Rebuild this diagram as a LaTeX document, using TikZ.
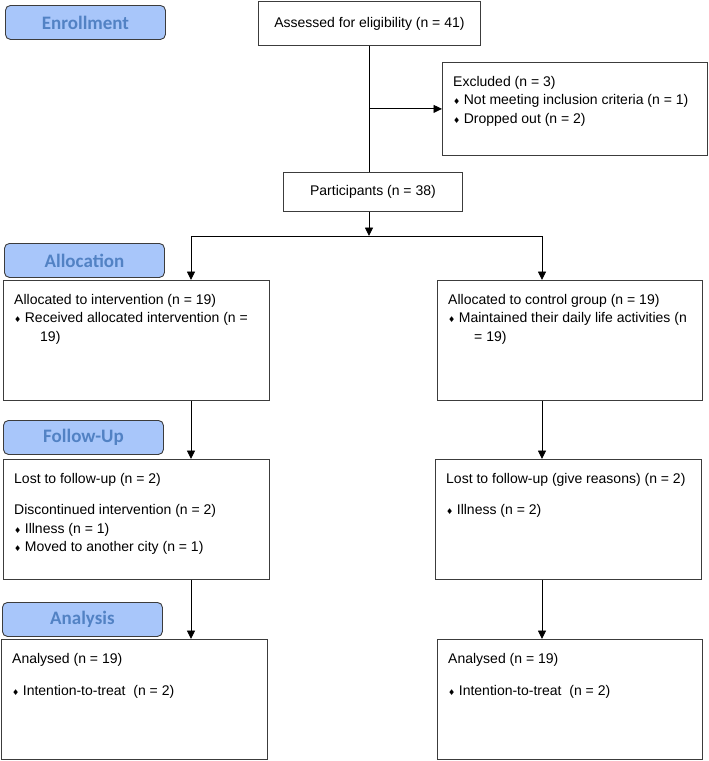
\documentclass[tikz,border=0pt]{standalone}
\usepackage{fontspec}
\setmainfont{Liberation Sans}
\newfontfamily\labelfont{Carlito}
\newfontfamily\dejavu{DejaVu Sans}
\usetikzlibrary{arrows.meta}

\definecolor{stagefill}{RGB}{168,198,250}
\definecolor{stagetext}{RGB}{82,130,196}
\definecolor{boxline}{RGB}{60,60,60}

\newcommand{\bul}{{\dejavu\fontsize{8}{8}\selectfont ♦}\hspace{3.5pt}}

\tikzset{
	stage/.style={draw=boxline, fill=stagefill, rounded corners=5pt, line width=0.9pt,
		minimum width=160pt, minimum height=34pt, inner sep=0pt, anchor=north west,
		text=stagetext, font=\labelfont\bfseries\fontsize{19}{19}\selectfont},
	box/.style={draw=boxline, line width=0.9pt, inner sep=0pt, anchor=north west},
	txt/.style={inner sep=0pt, anchor=north west, align=left},
	arr/.style={-{Triangle[width=8pt,length=8.5pt]}, line width=0.9pt}
}

\begin{document}
\begin{tikzpicture}[x=1pt,y=-1pt,font=\fontsize{14}{18.5}\selectfont]
	\useasboundingbox (0,0) rectangle (709,761);

	% stage labels
	\node[stage] (enrol) at (5,5) {\raisebox{-1.5pt}{Enrollment}};
	\node[stage] (alloc) at (4,243) {\raisebox{-1.5pt}{Allocation}};
	\node[stage] (follow) at (3,420) {\raisebox{-1.5pt}{Follow-Up}};
	\node[stage] (analysis) at (2,602) {\raisebox{-1.5pt}{Analysis}};

	% enrollment
	\node[box, minimum width=222pt, minimum height=44pt] (assessed) at (258,1) {};
	\node (assessedtxt) at (assessed.center) {Assessed for eligibility (n = 41)};

	\node[box, minimum width=265pt, minimum height=93pt] (excluded) at (442,62) {};
	\node[txt] (excludedtxt) at (453,76) {Excluded (n = 3)\\
		\bul Not meeting inclusion criteria (n = 1)\\
		\bul Dropped out (n = 2)};

	\node[box, minimum width=179pt, minimum height=39pt] (particip) at (283,172) {};
	\node (participtxt) at (particip.center) {Participants (n = 38)};

	% allocation
	\node[box, minimum width=266pt, minimum height=120pt] (allocL) at (3,280) {};
	\node[txt] (allocLtxt) at (14,294) {Allocated to intervention (n = 19)\\
		\bul Received allocated intervention (n =\\
		\hspace*{26pt}19)};

	\node[box, minimum width=265pt, minimum height=120pt] (allocR) at (437,280) {};
	\node[txt] (allocRtxt) at (448,294) {Allocated to control group (n = 19)\\
		\bul Maintained their daily life activities (n\\
		\hspace*{26pt}= 19)};

	% follow-up
	\node[box, minimum width=266pt, minimum height=120pt] (followL) at (3,459) {};
	\node[txt] (followLtxt) at (14,473) {Lost to follow-up (n = 2)\\[13pt]
		Discontinued intervention (n = 2)\\
		\bul Illness (n = 1)\\
		\bul Moved to another city (n = 1)};

	\node[box, minimum width=266pt, minimum height=120pt] (followR) at (435,459) {};
	\node[txt] (followRtxt) at (446,473) {Lost to follow-up (give reasons) (n = 2)\\[13pt]
		\bul Illness (n = 2)};

	% analysis
	\node[box, minimum width=266pt, minimum height=120pt] (analysL) at (1,639) {};
	\node[txt] (analysLtxt) at (12,653) {Analysed (n = 19)\\[14pt]
		\bul Intention-to-treat\ \ (n = 2)};

	\node[box, minimum width=265pt, minimum height=120pt] (analysR) at (437,639) {};
	\node[txt] (analysRtxt) at (448,653) {Analysed (n = 19)\\[14pt]
		\bul Intention-to-treat\ \ (n = 2)};

	% connectors
	\coordinate (split) at (369,236);
	\coordinate (splitL) at (191,236);
	\coordinate (splitR) at (542,236);

	\draw[line width=0.9pt] (assessed.south -| split) -- (particip.north -| split);
	\draw[arr] (assessed.south -| split) ++(0,63) coordinate (excl) -- (excluded.west |- excl);
	\draw[arr] (particip.south -| split) -- (split);
	\draw[line width=0.9pt] (splitL) -- (splitR);
	\draw[arr] (splitL) -- (allocL.north -| splitL);
	\draw[arr] (splitR) -- (allocR.north -| splitR);

	\draw[arr] (allocL.south -| splitL) -- (followL.north -| splitL);
	\draw[arr] (allocR.south -| splitR) -- (followR.north -| splitR);
	\draw[arr] (followL.south -| splitL) -- (analysL.north -| splitL);
	\draw[arr] (followR.south -| splitR) -- (analysR.north -| splitR);
\end{tikzpicture}
\end{document}
